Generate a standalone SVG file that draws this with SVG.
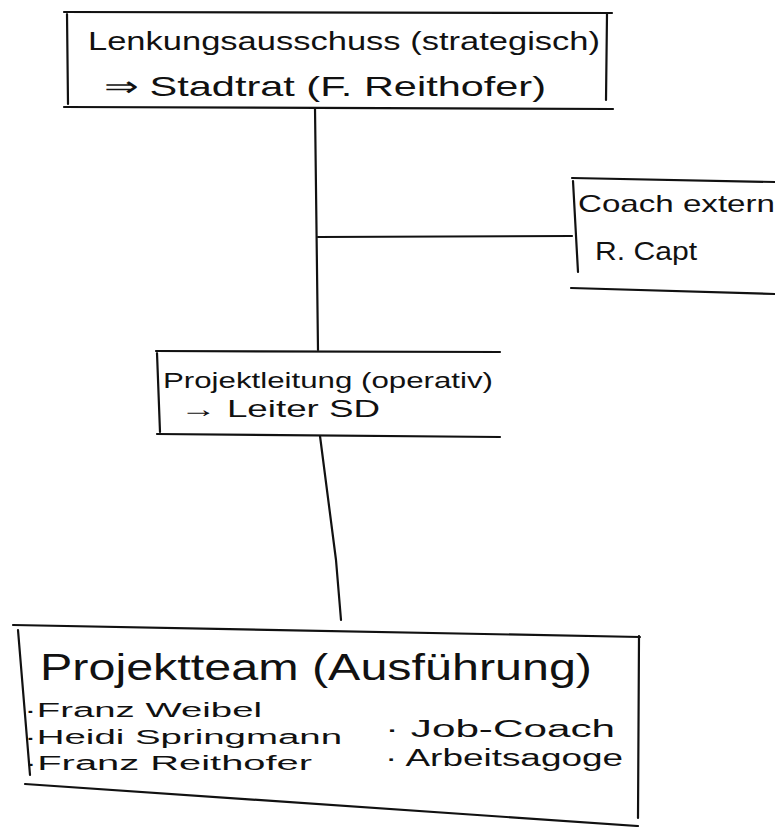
<svg xmlns="http://www.w3.org/2000/svg" width="775" height="827" viewBox="0 0 775 827">
<style>
.ln{fill:none;stroke:#111;stroke-width:2.2;stroke-linecap:round;stroke-linejoin:round}
.t{font-family:"Liberation Sans",Arial,sans-serif;fill:#111}
</style>
<rect width="775" height="827" fill="#fff"/>
<g id="connectors">
<path class="ln" d="M315,108 L318,350"/>
<path class="ln" d="M318,237 L572,236"/>
<path class="ln" d="M320,436 Q328,500 336,560 L341,620"/>
</g>
<g id="lenkungsausschuss">
<path class="ln" d="M64,12 L612,13 M67,14 L68,104 M607,14 L606,100 M64,107 L613,109"/>
<text class="t" x="88" y="50" font-size="26" textLength="512" lengthAdjust="spacingAndGlyphs">Lenkungsausschuss (strategisch)</text>
<text class="t" x="104" y="96" font-size="28" textLength="442" lengthAdjust="spacingAndGlyphs">⇒ Stadtrat  (F. Reithofer)</text>
</g>
<g id="coach">
<path class="ln" d="M572,178 L775,182 M573,181 L578,272 M571,288 L775,294"/>
<text class="t" x="578" y="212" font-size="24" textLength="197" lengthAdjust="spacingAndGlyphs">Coach extern</text>
<text class="t" x="595" y="260" font-size="26" textLength="102" lengthAdjust="spacingAndGlyphs">R. Capt</text>
</g>
<g id="projektleitung">
<path class="ln" d="M156,351 L500,352 M157,353 L160,432 M157,434 L500,437"/>
<text class="t" x="163" y="388" font-size="22" textLength="330" lengthAdjust="spacingAndGlyphs">Projektleitung (operativ)</text>
<text class="t" x="180" y="417" font-size="24" textLength="200" lengthAdjust="spacingAndGlyphs">→ Leiter SD</text>
</g>
<g id="projektteam">
<path class="ln" d="M13,625 L640,637 M18,630 L30,775 M639,636 L638,818 M25,784 L638,826"/>
<text class="t" x="40" y="680" font-size="36" textLength="552" lengthAdjust="spacingAndGlyphs">Projektteam (Ausführung)</text>
<text class="t" x="24" y="717" font-size="20" textLength="238" lengthAdjust="spacingAndGlyphs">·Franz Weibel</text>
<text class="t" x="24" y="744" font-size="20" textLength="318" lengthAdjust="spacingAndGlyphs">·Heidi Springmann</text>
<text class="t" x="24" y="770" font-size="20" textLength="288" lengthAdjust="spacingAndGlyphs">·Franz Reithofer</text>
<text class="t" x="385" y="737" font-size="23" textLength="230" lengthAdjust="spacingAndGlyphs">·  Job-Coach</text>
<text class="t" x="385" y="766" font-size="23" textLength="238" lengthAdjust="spacingAndGlyphs">·  Arbeitsagoge</text>
</g>
</svg>
